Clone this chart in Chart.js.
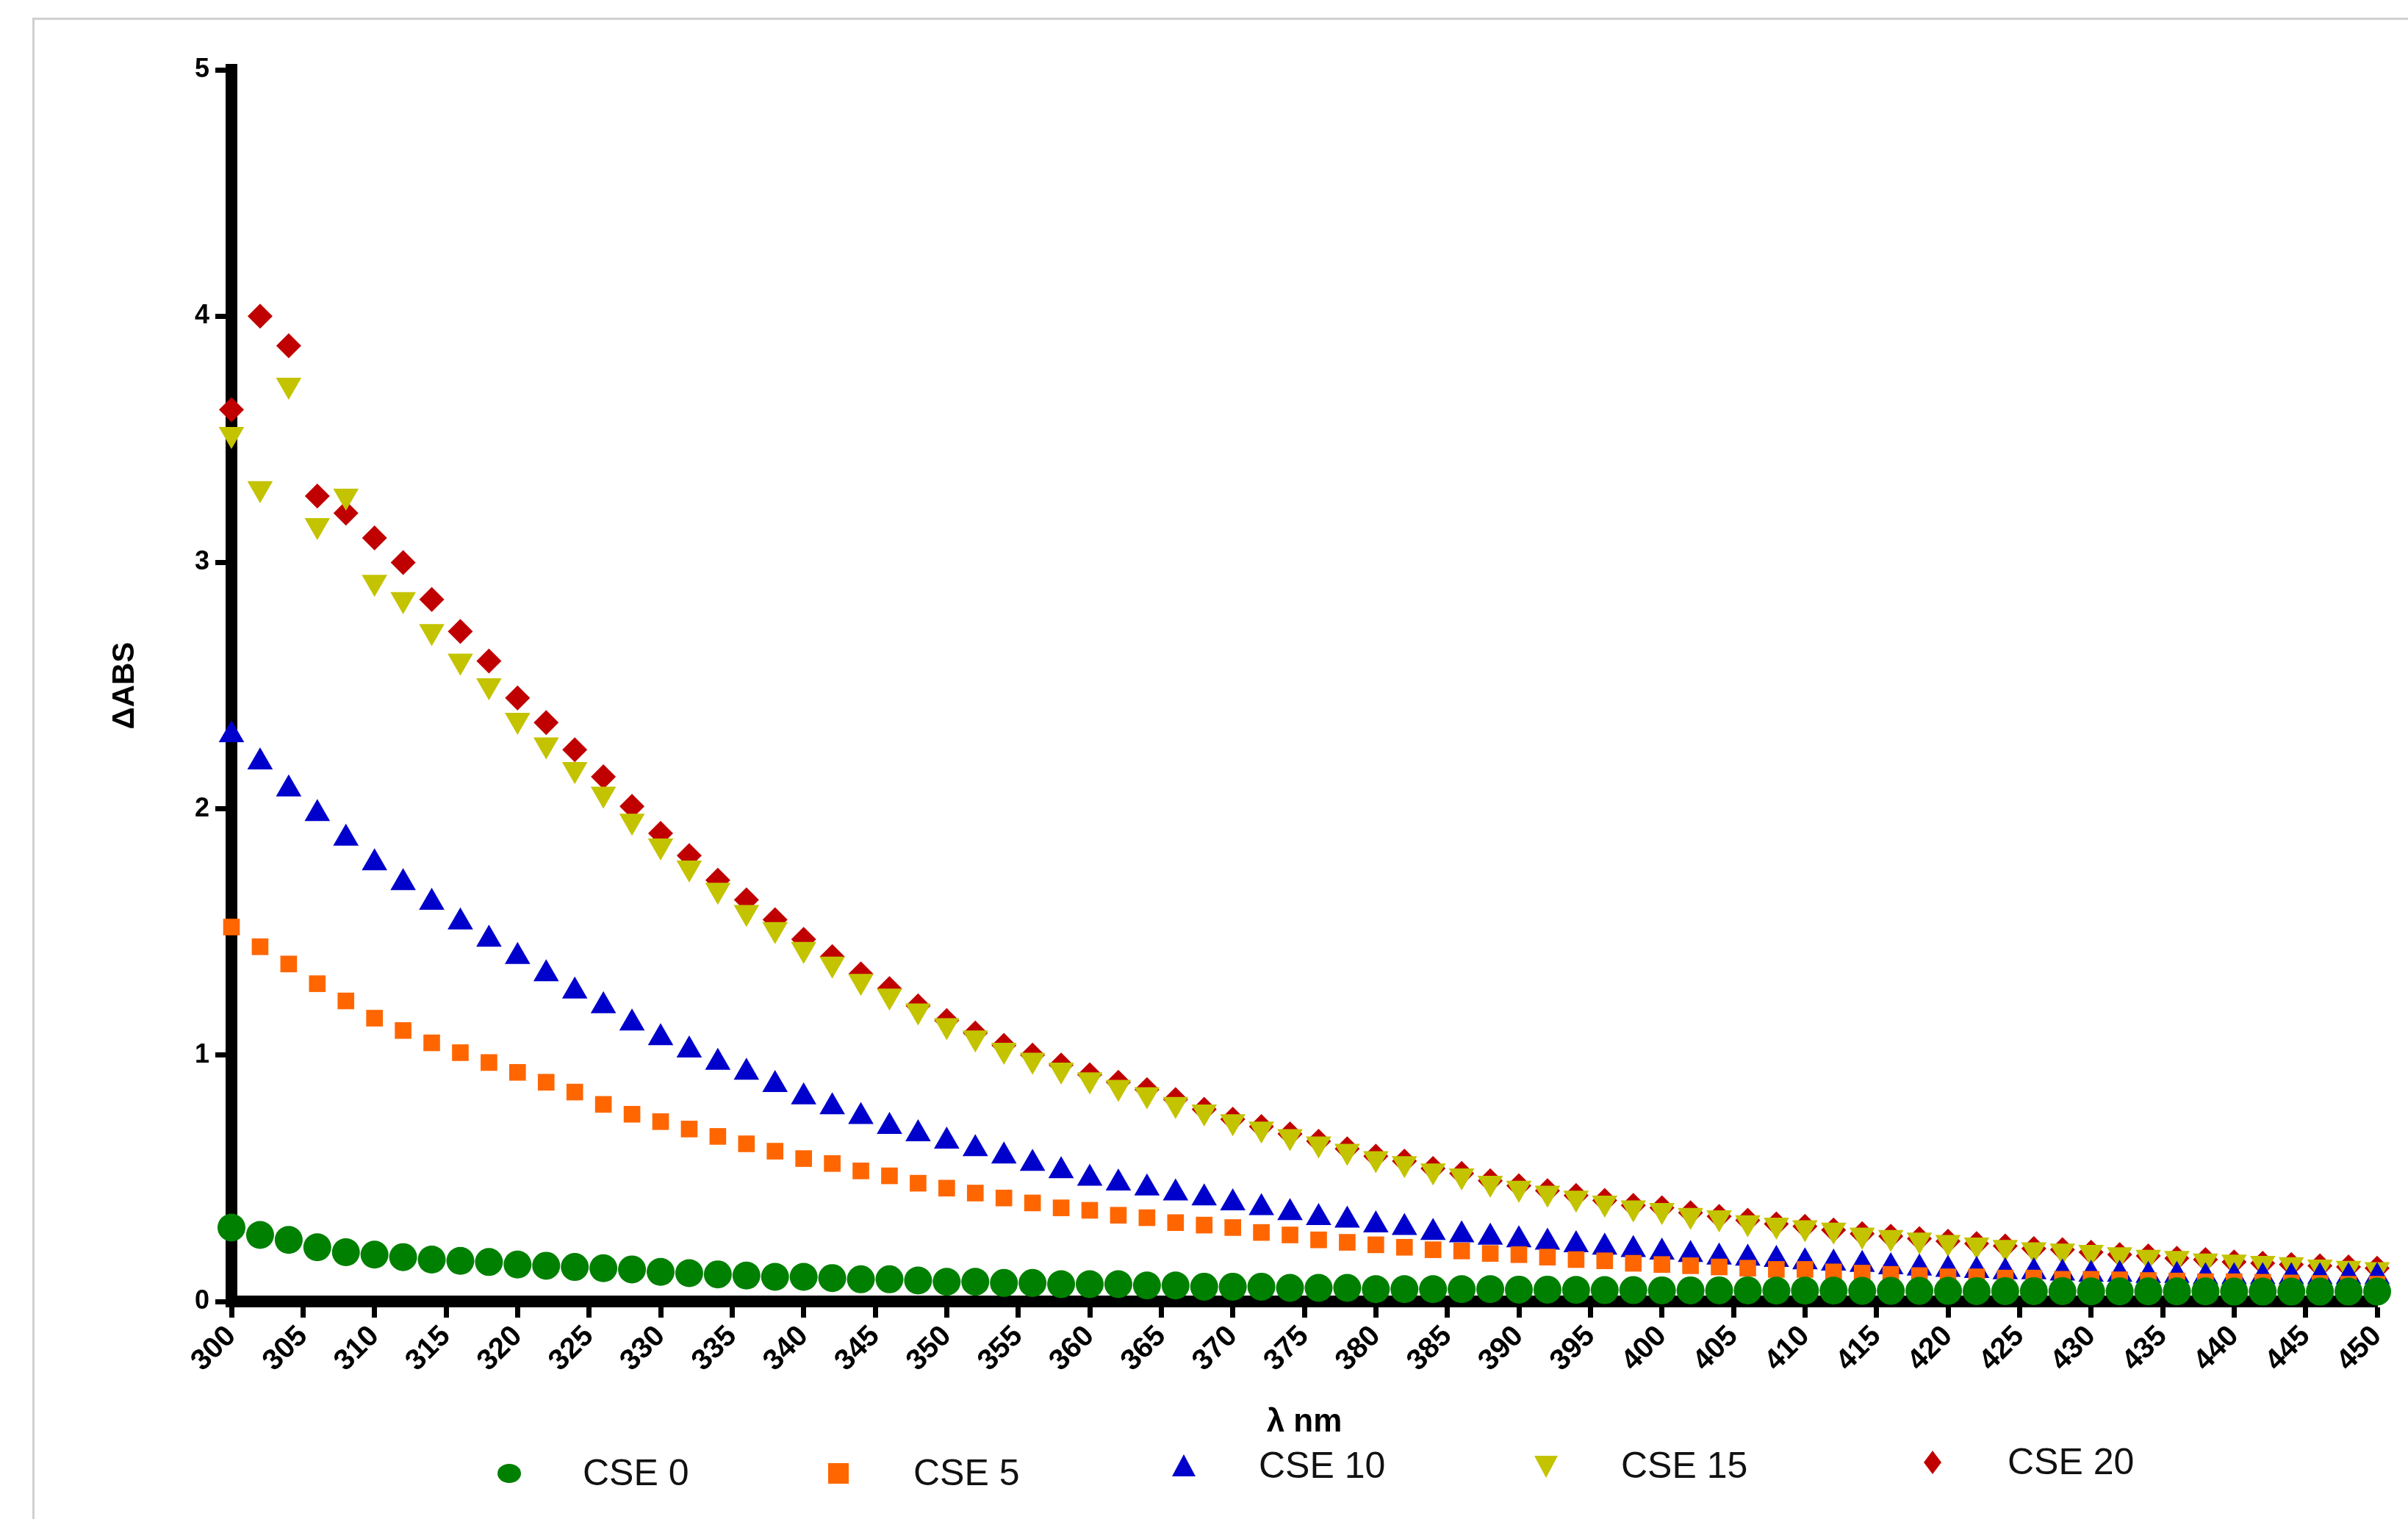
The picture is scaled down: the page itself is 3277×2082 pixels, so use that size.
<!DOCTYPE html>
<html><head><meta charset="utf-8">
<script src="https://cdn.jsdelivr.net/npm/chart.js@4"></script>
<style>
html,body{margin:0;padding:0;background:#fff;}
#wrap{position:relative;width:3277px;height:2082px;}
#frame{position:absolute;left:44px;top:24px;width:3240px;height:2040px;border-left:3px solid #d0d0d0;border-top:3px solid #d0d0d0;}
canvas{position:absolute;left:0;top:0;}
.lg{position:absolute;font-family:"Liberation Sans",Arial,sans-serif;font-size:50px;color:#111;}
.mk{position:absolute;}
</style></head><body>
<div id="wrap"><div id="frame"></div><canvas id="c" width="3277" height="2082"></canvas>
<div id="legend"></div></div>
<script>
const wavelengths=[];for(let w=300;w<=450;w+=2)wavelengths.push(w);
const seriesNames=["CSE 0","CSE 5","CSE 10","CSE 15","CSE 20"];
const cse0=[.30,.27,.25,.22,.20,.19,.18,.17,.165,.16,.15,.145,.14,.135,.13,.12,.115,.11,.105,.10,.10,.095,.09,.09,.085,.08,.08,.075,.075,.07,.07,.07,.065,.065,.06,.06,.06,.055,.055,.055,.05,.05,.05,.05,.05,.048,.048,.047,.046,.046,.045,.045,.045,.045,.044,.044,.044,.043,.043,.043,.043,.042,.042,.042,.042,.041,.041,.041,.041,.041,.04,.04,.04,.04,.04,.04];
const cse5=[1.52,1.44,1.37,1.29,1.22,1.15,1.10,1.05,1.01,0.97,0.93,0.89,0.85,0.80,0.76,0.73,0.70,0.67,0.64,0.61,0.58,0.56,0.53,0.51,0.48,0.46,0.44,0.42,0.40,0.38,0.37,0.35,0.34,0.32,0.31,0.30,0.28,0.27,0.25,0.24,0.23,0.22,0.21,0.205,0.195,0.19,0.18,0.17,0.165,0.155,0.15,0.145,0.14,0.135,0.13,0.13,0.12,0.115,0.11,0.105,0.10,0.10,0.095,0.095,0.09,0.09,0.088,0.085,0.083,0.08,0.08,0.078,0.075,0.073,0.07,0.07];
const cse10=[2.30,2.19,2.08,1.98,1.88,1.78,1.70,1.62,1.54,1.47,1.40,1.33,1.26,1.20,1.13,1.07,1.02,0.97,0.93,0.88,0.83,0.79,0.75,0.71,0.68,0.65,0.62,0.59,0.56,0.53,0.50,0.48,0.46,0.44,0.42,0.40,0.38,0.36,0.34,0.33,0.31,0.30,0.28,0.27,0.26,0.25,0.24,0.23,0.22,0.21,0.20,0.19,0.18,0.175,0.17,0.16,0.155,0.15,0.14,0.135,0.13,0.125,0.12,0.12,0.115,0.11,0.11,0.105,0.105,0.10,0.10,0.10,0.10,0.10,0.10,0.10];
const cse15=[3.52,3.30,3.72,3.15,3.27,2.92,2.85,2.72,2.60,2.50,2.36,2.26,2.16,2.06,1.95,1.85,1.76,1.67,1.58,1.51,1.43,1.37,1.30,1.24,1.18,1.12,1.07,1.02,0.98,0.94,0.90,0.87,0.84,0.80,0.77,0.73,0.70,0.67,0.64,0.61,0.58,0.56,0.53,0.51,0.48,0.46,0.44,0.42,0.40,0.38,0.37,0.35,0.34,0.32,0.31,0.30,0.29,0.27,0.26,0.25,0.24,0.23,0.22,0.21,0.205,0.20,0.19,0.18,0.175,0.165,0.16,0.155,0.15,0.14,0.135,0.13];
const cse20=[3.62,4.00,3.88,3.27,3.20,3.10,3.00,2.85,2.72,2.60,2.45,2.35,2.24,2.13,2.01,1.90,1.81,1.71,1.63,1.55,1.47,1.40,1.33,1.27,1.20,1.14,1.09,1.04,1.00,0.96,0.92,0.89,0.86,0.82,0.78,0.74,0.71,0.68,0.65,0.62,0.59,0.57,0.54,0.52,0.49,0.47,0.45,0.43,0.41,0.39,0.38,0.36,0.345,0.33,0.315,0.305,0.29,0.275,0.265,0.255,0.245,0.235,0.225,0.215,0.21,0.20,0.19,0.185,0.175,0.17,0.16,0.155,0.15,0.145,0.14,0.135];
const yTicks=[0,1,2,3,4,5];
const colors=["#008000","#ff6600","#0000cc","#c3c300","#c00000"];
const styles=["circle","rect","triangle","triangle","rectRot"];
const rots=[0,0,0,180,0];
const vals=[cse0,cse5,cse10,cse15,cse20];
const datasets=vals.map((v,i)=>({label:seriesNames[i],data:wavelengths.map((w,j)=>({x:w,y:v[j]})),
 showLine:false,pointStyle:styles[i],rotation:rots[i],pointRadius:[19,16,20,20,17][i],
 backgroundColor:colors[i],borderColor:colors[i],borderWidth:0,order:i,clip:false}));
new Chart(document.getElementById('c'),{type:'scatter',data:{datasets},
options:{responsive:false,animation:false,
 layout:{padding:{top:95,right:42,left:0,bottom:0}},
 plugins:{legend:{display:false},tooltip:{enabled:false}},
 scales:{
  x:{type:'linear',min:300,max:450,
   afterFit:s=>{s.height=311;},
   ticks:{stepSize:5,maxRotation:45,minRotation:45,autoSkip:false,color:'#000',font:{family:'Liberation Sans',weight:'bold',size:40},padding:2},
   grid:{drawOnChartArea:false,drawTicks:true,tickLength:22,tickWidth:7,color:'#000'},
   border:{width:16,color:'#000'},
   title:{display:true,text:'λ nm',color:'#000',font:{family:'Liberation Sans',weight:'bold',size:44},padding:{top:0,bottom:120}}},
  y:{min:0,max:5,
   afterFit:s=>{s.width=315;},
   afterBuildTicks:s=>{s.ticks=yTicks.map(v=>({value:v}));},
   ticks:{color:'#000',font:{family:'Liberation Sans',weight:'bold',size:36},padding:8},
   grid:{drawOnChartArea:false,drawTicks:true,tickLength:22,tickWidth:7,color:'#000'},
   border:{width:16,color:'#000'},
   title:{display:true,text:'ΔABS',color:'#000',font:{family:'Liberation Sans',weight:'bold',size:42},padding:{top:145,bottom:0}}}
 }}});
const lgPos=[[693,793,2005],[1141,1243,2005],[1611,1713,1995],[2104,2206,1995],[2630,2732,1990]];
const lg=document.getElementById('legend');
lgPos.forEach((p,i)=>{
 const m=document.createElement('canvas');m.width=40;m.height=40;m.className='mk';
 m.style.left=(p[0]-20)+'px';m.style.top=(p[2]-20)+'px';
 const g=m.getContext('2d');g.fillStyle=colors[i];g.beginPath();
 if(i==0){g.ellipse(20,20,16,13,0,0,7);}
 else if(i==1){g.rect(6,6,28,28);}
 else if(i==2){g.moveTo(20,4);g.lineTo(36,34);g.lineTo(4,34);}
 else if(i==3){g.moveTo(4,6);g.lineTo(36,6);g.lineTo(20,36);}
 else {g.moveTo(20,4);g.lineTo(32,20);g.lineTo(20,36);g.lineTo(8,20);}
 g.fill();lg.appendChild(m);
 const t=document.createElement('div');t.className='lg';t.textContent=seriesNames[i];
 t.style.left=p[1]+'px';t.style.top=(p[2]-30)+'px';lg.appendChild(t);
});
</script></body></html>
